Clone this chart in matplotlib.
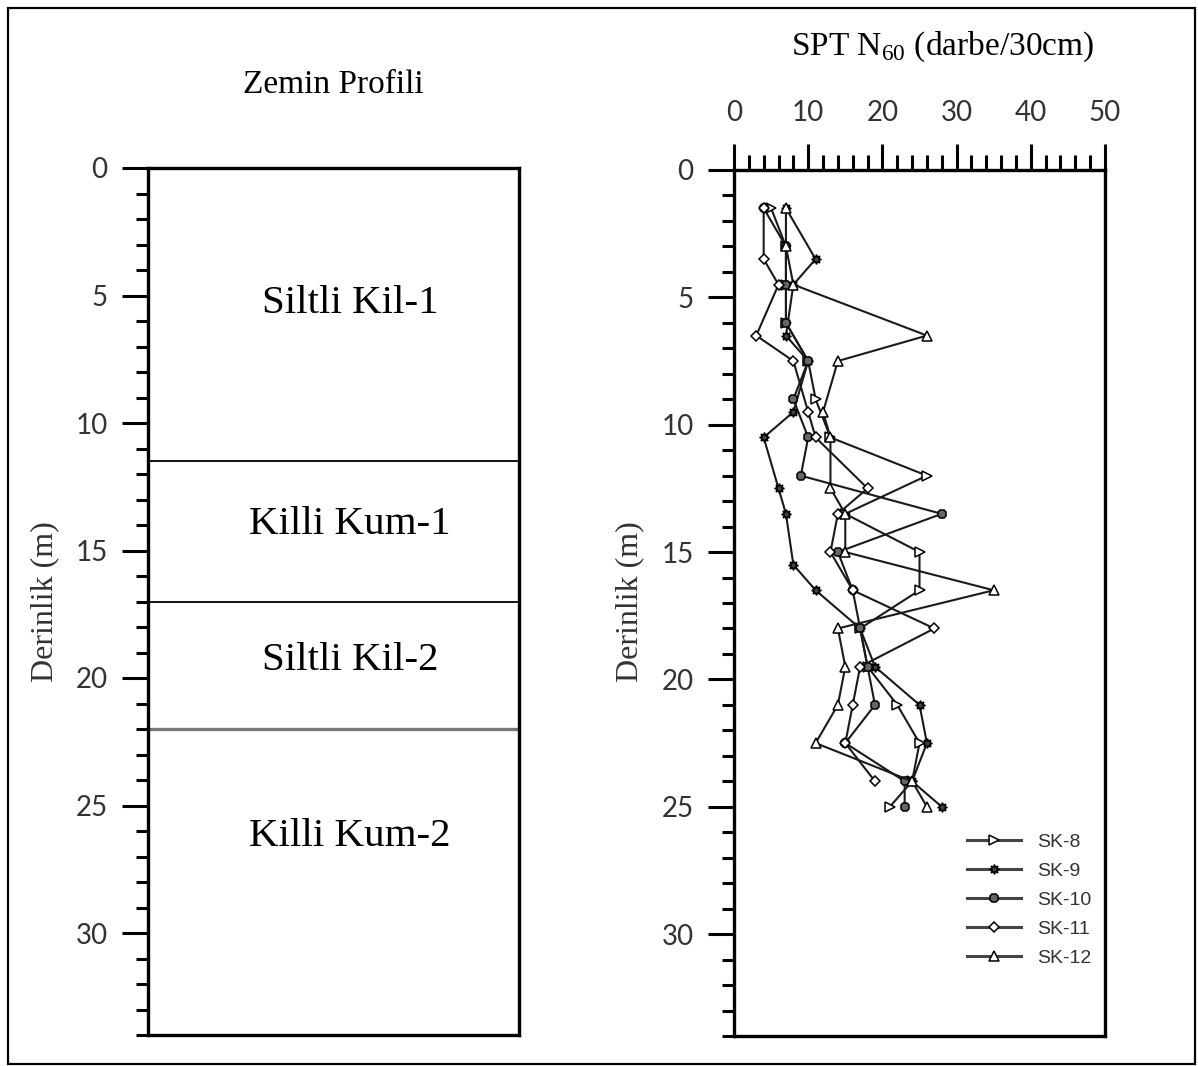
import matplotlib
matplotlib.use("Agg")
import matplotlib.pyplot as plt
from matplotlib.patches import Rectangle
from matplotlib.ticker import MultipleLocator

# soil profile
layer_names = ["Siltli Kil-1", "Killi Kum-1", "Siltli Kil-2", "Killi Kum-2"]
layer_bounds = [11.5, 17.0, 22.0]
layer_label_depth = [5.3, 14.0, 19.3, 26.2]

# SPT N60 per borehole
sk8_depth = [1.5, 3, 4.5, 6, 7.5, 9, 10.5, 12, 13.5, 15, 16.5, 18, 19.5, 21, 22.5, 24, 25]
sk8_n = [5, 7, 7, 7, 10, 11, 13, 26, 15, 25, 25, 17, 18, 22, 25, 24, 21]

sk9_depth = [1.5, 3.5, 4.5, 6.5, 7.5, 9.5, 10.5, 12.5, 13.5, 15.5, 16.5, 18, 19.5, 21, 22.5, 24, 25]
sk9_n = [7, 11, 8, 7, 10, 8, 4, 6, 7, 8, 11, 17, 19, 25, 26, 24, 28]

sk10_depth = [1.5, 3, 4.5, 6, 7.5, 9, 10.5, 12, 13.5, 15, 16.5, 18, 19.5, 21, 22.5, 24, 25]
sk10_n = [4, 7, 7, 7, 10, 8, 10, 9, 28, 14, 16, 17, 18, 19, 15, 23, 23]

sk11_depth = [1.5, 3.5, 4.5, 6.5, 7.5, 9.5, 10.5, 12.5, 13.5, 15, 16.5, 18, 19.5, 21, 22.5, 24]
sk11_n = [4, 4, 6, 3, 8, 10, 11, 18, 14, 13, 16, 27, 17, 16, 15, 19]

sk12_depth = [1.5, 3, 4.5, 6.5, 7.5, 9.5, 10.5, 12.5, 13.5, 15, 16.5, 18, 19.5, 21, 22.5, 24, 25]
sk12_n = [7, 7, 8, 26, 14, 12, 13, 13, 15, 15, 35, 14, 15, 14, 11, 24, 26]

series = [
    ("SK-8", sk8_depth, sk8_n, dict(marker=">", mfc="white")),
    ("SK-9", sk9_depth, sk9_n, dict(marker=(8, 1, 0), mfc="#444")),
    ("SK-10", sk10_depth, sk10_n, dict(marker="8", mfc="#666")),
    ("SK-11", sk11_depth, sk11_n, dict(marker="D", mfc="white", markersize=5.5)),
    ("SK-12", sk12_depth, sk12_n, dict(marker="^", mfc="white")),
]

plt.rcParams["mathtext.fontset"] = "custom"
plt.rcParams["mathtext.rm"] = "Liberation Serif"

SERIF = "Liberation Serif"
TICK_FONT = "Lato"
GREY = "#333333"

fig = plt.figure(figsize=(11.98, 10.66), dpi=100)
W, H = 1198, 1066


def _axes_rect(x0, x1, y_top, y_bot):
    return [x0 / W, 1 - y_bot / H, (x1 - x0) / W, (y_bot - y_top) / H]


def _style_depth_axis(ax):
    ax.set_ylim(34, 0)
    ax.yaxis.set_major_locator(MultipleLocator(5))
    ax.yaxis.set_minor_locator(MultipleLocator(1))
    ax.set_yticks([0, 5, 10, 15, 20, 25, 30])
    ax.tick_params(axis="y", which="major", direction="out", length=19, width=2.2, pad=10)
    ax.tick_params(axis="y", which="minor", direction="out", length=9, width=2.2)
    for lab in ax.get_yticklabels():
        lab.set_fontfamily(TICK_FONT)
        lab.set_fontsize(20)
        lab.set_color(GREY)
    for sp in ax.spines.values():
        sp.set_linewidth(2.4)


# left: soil profile
axl = fig.add_axes(_axes_rect(148, 519, 168, 1035))
axl.set_xlim(0, 1)
axl.set_xticks([])
_style_depth_axis(axl)
for i, d in enumerate(layer_bounds):
    if i == len(layer_bounds) - 1:
        axl.axhline(d, color="#777777", lw=2.4)
    else:
        axl.axhline(d, color="black", lw=1.3)
for name, d in zip(layer_names, layer_label_depth):
    axl.text(0.545, d, name, ha="center", va="center", family=SERIF, fontsize=29.5)

# right: SPT N60
axr = fig.add_axes(_axes_rect(734, 1105, 170, 1036))
_style_depth_axis(axr)
axr.set_xlim(0, 50)
axr.xaxis.set_major_locator(MultipleLocator(10))
axr.xaxis.set_minor_locator(MultipleLocator(2))
axr.xaxis.tick_top()
axr.tick_params(axis="x", which="major", direction="out", length=19, width=2.2, pad=13)
axr.tick_params(axis="x", which="minor", direction="out", length=11, width=2.2)
for lab in axr.get_xticklabels():
    lab.set_fontfamily(TICK_FONT)
    lab.set_fontsize(20)
    lab.set_color(GREY)

for name, depth, n, style in series:
    kw = dict(color="#1a1a1a", lw=1.5, mec="black", mew=1.1, markersize=7)
    kw.update(style)
    axr.plot(n, depth, label=name, **kw)

leg = axr.legend(loc="lower right", bbox_to_anchor=(1.01, 0.06), frameon=False,
                 prop={"family": "Liberation Sans", "size": 14},
                 handlelength=2.8, handletextpad=0.8, labelspacing=0.58)
for t in leg.get_texts():
    t.set_color(GREY)
for h in leg.get_lines():
    h.set_color("#444444")
    h.set_linewidth(2.2)

# titles and axis labels
fig.text(333 / W, 1 - 85 / H, "Zemin Profili", ha="center", va="center",
         family=SERIF, fontsize=24)
fig.text(943 / W, 1 - 47 / H, "SPT N$_{60}$ (darbe/30cm)", ha="center", va="center",
         family=SERIF, fontsize=24)
fig.text(45 / W, 1 - 602 / H, "Derinlik (m)", rotation=90, ha="center", va="center",
         family=SERIF, fontsize=23, color=GREY)
fig.text(630 / W, 1 - 602 / H, "Derinlik (m)", rotation=90, ha="center", va="center",
         family=SERIF, fontsize=23, color=GREY)

# outer frame
fig.patches.append(Rectangle((8 / W, 2 / H), 1187 / W, 1056 / H, transform=fig.transFigure,
                             fill=False, edgecolor="black", lw=1.6))

fig.savefig("out.png", dpi=100)
